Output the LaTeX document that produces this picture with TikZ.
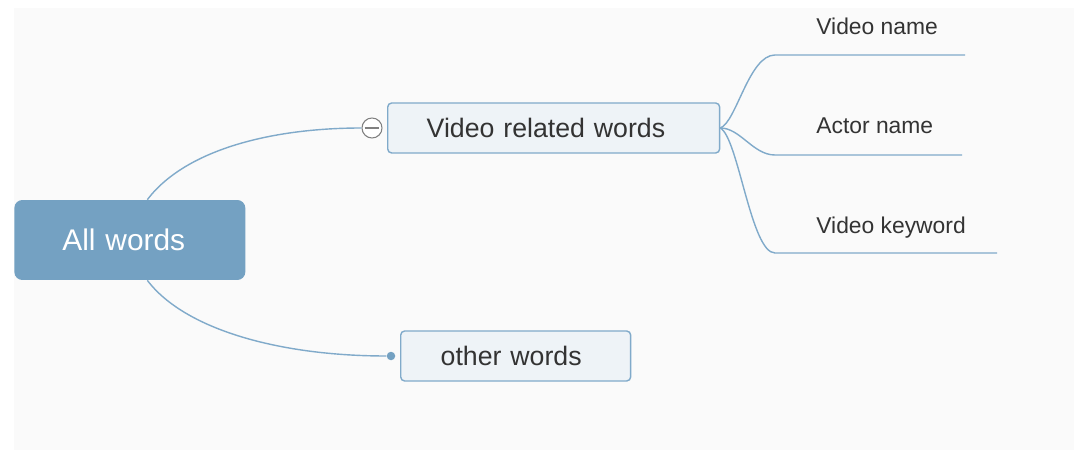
\documentclass[tikz,border=0pt]{standalone}
\usepackage{fontspec}
\setmainfont{Liberation Sans}
\usetikzlibrary{positioning}

\definecolor{rootblue}{HTML}{74A1C2}
\definecolor{linkblue}{HTML}{80AACA}
\definecolor{topicfill}{HTML}{EEF3F7}
\definecolor{panelgray}{HTML}{FAFAFA}
\definecolor{inkgray}{HTML}{333333}

\tikzset{
  rootbox/.style={fill=rootblue, rounded corners=0.16cm, text=white, anchor=west,
    inner xsep=0.96cm, text width=2.7cm, minimum height=1.6cm, align=left,
    font=\fontsize{17}{20}\selectfont},
  topicbox/.style={draw=linkblue, line width=0.8pt, fill=topicfill, rounded corners=0.08cm,
    text=inkgray, anchor=west, minimum height=1.0cm, align=left,
    font=\fontsize{15.2}{18}\selectfont},
  leaflabel/.style={anchor=base west, inner sep=0pt, text=inkgray,
    font=\fontsize{13}{15}\selectfont},
  link/.style={draw=linkblue, line width=0.8pt},
}

\begin{document}
\begin{tikzpicture}[x=0.02cm, y=-0.02cm]
	\useasboundingbox (0,0) rectangle (1074,452);
	\fill[panelgray] (14,8) rectangle (1074,450);

	% root
	\node[rootbox] (root) at (14,240) {All words};

	% first level
	\node[topicbox, inner xsep=0.78cm, text width=5.08cm] (video) at (387,128) {Video related words};
	\node[topicbox, inner xsep=0.8cm, text width=3.0cm] (other) at (400,356) {other words};

	\node[circle, draw=gray, fill=white, line width=0.6pt, minimum size=0.4cm, inner sep=0pt,
		path picture={\draw[gray, line width=0.6pt] ([xshift=1.5pt]path picture bounding box.west) -- ([xshift=-1.5pt]path picture bounding box.east);}]
		(fold) at (372,128) {};
	\node[circle, fill=rootblue, minimum size=0.17cm, inner sep=0pt] (dot) at (391,356) {};

	\draw[link] ([xshift=0.35cm]root.north) .. controls +(38,-50) and +(-90,0) .. (fold.west);
	\draw[link] ([xshift=0.35cm]root.south) .. controls +(38,50) and +(-105,0) .. (dot.west);

	% second level
	\coordinate (vname) at (775,55);
	\coordinate (aname) at (775,155);
	\coordinate (vkey) at (775,253);

	\node[leaflabel] (vnamelbl) at (816,35) {Video name};
	\node[leaflabel] (anamelbl) at (816,134) {Actor name};
	\node[leaflabel] (vkeylbl) at (816,234) {Video keyword};

	\draw[link] (video.east) .. controls +(16,-6) and +(-26,0) .. (vname) -- ++(190,0);
	\draw[link] (video.east) .. controls +(20,0) and +(-22,0) .. (aname) -- ++(187,0);
	\draw[link] (video.east) .. controls +(18,10) and +(-24,0) .. (vkey) -- ++(222,0);

\end{tikzpicture}
\end{document}
